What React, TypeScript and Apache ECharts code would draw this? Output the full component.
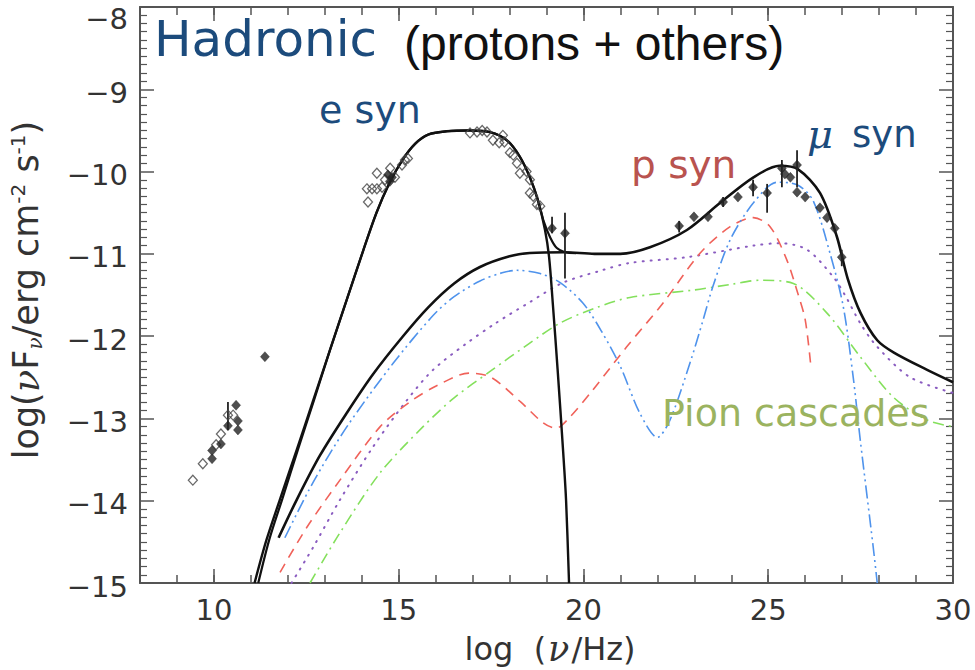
import { useEffect, useRef } from 'react';
import * as echarts from 'echarts';

// ---- axis ticks ----
const xMajorTicks = [10, 15, 20, 25, 30];
const yRange = [-15, -8];
const xRange = [8, 30];

// ---- model curves: [log nu, log nuFnu] ----
const eSynCurve = [
  [11.1, -15], [11.42, -14.48], [11.79, -13.98], [12.25, -13.37], [12.68, -12.79],
  [13.14, -12.17], [13.6, -11.55], [14.04, -10.96], [14.4, -10.5], [14.75, -10.14],
  [15.1, -9.86], [15.45, -9.66], [15.8, -9.55], [16.3, -9.51], [16.93, -9.5],
  [17.47, -9.52], [17.93, -9.62], [18.28, -9.82], [18.55, -10.07], [18.77, -10.35],
  [18.96, -10.71], [19.07, -11.04], [19.17, -11.6], [19.3, -12.4], [19.45, -13.4],
  [19.53, -14.0], [19.61, -15],
];

const totalCurve = [
  [11.2, -15], [11.5, -14.47], [11.85, -13.98], [12.28, -13.37], [12.7, -12.79],
  [13.14, -12.17], [13.6, -11.55], [14.04, -10.96], [14.4, -10.5], [14.75, -10.14],
  [15.1, -9.86], [15.45, -9.66], [15.8, -9.55], [16.3, -9.51], [16.93, -9.5],
  [17.47, -9.52], [17.93, -9.62], [18.28, -9.82], [18.55, -10.07], [18.77, -10.35],
  [18.92, -10.6], [19.1, -10.8], [19.28, -10.93], [19.5, -10.98], [19.8, -10.99],
];

const hadronicCurve = [
  [11.75, -14.45], [12.25, -13.98], [12.87, -13.45], [13.6, -12.93], [14.31, -12.46],
  [15.1, -12.01], [15.8, -11.65], [16.5, -11.36], [17.2, -11.16], [18.0, -11.03],
  [18.55, -10.99], [19.5, -10.98], [20.3, -11.0], [21.0, -11.0], [21.8, -10.92],
  [22.8, -10.71], [23.7, -10.38], [24.6, -10.07], [25.3, -9.93], [25.8, -9.97],
  [26.4, -10.26], [26.85, -10.78], [27.15, -11.3], [27.5, -11.72], [27.95, -12.05],
  [28.4, -12.2], [29.3, -12.41], [30, -12.56],
];

const muSynCurve = [
  [11.92, -14.45], [12.68, -13.78], [13.6, -13.1], [14.85, -12.33], [15.93, -11.75],
  [16.5, -11.52], [17.2, -11.33], [17.8, -11.23], [18.2, -11.2], [18.83, -11.24],
  [19.37, -11.35], [19.99, -11.6], [20.5, -11.95], [21.0, -12.37], [21.53, -12.94],
  [22.0, -13.23], [22.34, -13.02], [22.88, -12.33], [23.24, -11.8], [23.5, -11.4],
  [23.97, -10.83], [24.6, -10.38], [25.24, -10.13], [25.78, -10.16], [26.21, -10.35],
  [26.67, -10.99], [27.03, -11.64], [27.3, -12.5], [27.49, -13.26], [27.84, -14.56],
  [27.95, -15],
];

const pSynCurve = [
  [11.79, -14.87], [12.52, -14.32], [13.41, -13.75], [14.5, -13.1], [15.3, -12.8],
  [16.04, -12.6], [16.9, -12.45], [17.5, -12.5], [18.3, -12.8], [18.9, -13.05],
  [19.25, -13.12], [19.64, -12.98], [20.26, -12.65], [21.17, -12.13], [22.15, -11.6],
  [23.16, -10.99], [23.97, -10.67], [24.6, -10.56], [25.05, -10.67], [25.5, -11.07],
  [25.8, -11.48], [26.0, -11.8], [26.15, -12.35],
];

const cascadeCurve = [
  [12.1, -15], [12.68, -14.57], [13.41, -13.99], [14.3, -13.35], [15.22, -12.78],
  [15.93, -12.41], [16.8, -12.1], [17.6, -11.85], [18.5, -11.6], [19.45, -11.35],
  [20.5, -11.2], [21.26, -11.11], [22.8, -11.04], [24.6, -10.9], [25.32, -10.87],
  [26.05, -10.95], [26.76, -11.28], [27.1, -11.52], [27.5, -11.85], [27.95, -12.13],
  [28.84, -12.5], [30, -12.69],
];

const pionCurve = [
  [12.6, -15], [13.41, -14.39], [14.5, -13.66], [15.66, -13.1], [16.5, -12.75],
  [17.5, -12.42], [18.5, -12.1], [19.37, -11.84], [20.37, -11.65], [21.26, -11.53],
  [22.97, -11.44], [24.0, -11.37], [24.78, -11.32], [25.68, -11.36], [26.59, -11.72],
  [27.49, -12.25], [28.38, -12.74], [29.3, -13.02], [30, -13.1],
];

// ---- observations ----
const openPoints = [
  [9.43, -13.75], [9.7, -13.55], [10.06, -13.32], [10.19, -13.19], [10.38, -12.96],
  [10.52, -12.96],
  [14.17, -10.37], [14.14, -10.21], [14.28, -10.21], [14.41, -10.21], [14.55, -10.19],
  [14.41, -10.02], [14.63, -10.1], [14.77, -9.96], [14.9, -10.07], [15.09, -9.92],
  [15.17, -9.86], [15.25, -9.84],
  [16.93, -9.53], [17.12, -9.52], [17.26, -9.5], [17.39, -9.52], [17.55, -9.62],
  [17.82, -9.56], [17.72, -9.65], [17.86, -9.64], [18.01, -9.77], [18.1, -9.8],
  [18.2, -9.9], [18.28, -10.02], [18.46, -10.0], [18.55, -10.1], [18.55, -10.26],
  [18.64, -10.3], [18.74, -10.4], [18.83, -10.42],
];

const filledPoints = [
  [9.95, -13.49], [9.95, -13.39], [10.19, -13.31], [10.38, -13.09], [10.6, -12.84],
  [10.65, -13.03], [10.65, -13.14], [11.38, -12.25],
  [14.71, -10.04], [14.82, -10.07], [14.76, -10.12],
  [19.15, -10.69], [19.5, -10.75],
  [22.59, -10.66], [22.99, -10.55], [23.37, -10.55], [23.78, -10.37], [24.18, -10.31],
  [24.59, -10.19], [24.97, -10.26], [25.37, -9.96], [25.45, -10.03], [25.6, -10.07],
  [25.78, -9.92], [25.78, -10.25], [26.0, -10.31], [26.4, -10.44], [26.59, -10.56],
  [26.8, -10.69], [26.99, -11.04],
];

// [x, low, high]
const errorBars = [
  [10.38, -13.14, -12.8],
  [19.15, -10.75, -10.55],
  [19.5, -11.3, -10.5],
  [22.59, -10.74, -10.6],
  [23.78, -10.43, -10.31],
  [24.59, -10.3, -10.1],
  [24.97, -10.5, -10.15],
  [25.37, -10.19, -9.86],
  [25.78, -10.19, -9.74],
  [26.99, -11.15, -10.95],
];

const axisColor = '#555';
const labelFont = { fontFamily: 'DejaVu Sans', fontSize: 29, color: '#333' };
const minus = (v: number) => (v < 0 ? '\u2212' + Math.abs(v) : String(v));

function curve(name: string, data: number[][], color: string, width: number, type: any, cap: any = 'butt') {
  return {
    name,
    type: 'line',
    data,
    showSymbol: false,
    symbol: 'none',
    smooth: 0.3,
    clip: true,
    lineStyle: { color, width, type, cap },
    z: 3,
  };
}

const xBase = {
  type: 'value',
  min: xRange[0],
  max: xRange[1],
  splitLine: { show: false },
};

const yBase = {
  type: 'value',
  min: yRange[0],
  max: yRange[1],
  interval: 1,
  axisLine: { show: true, onZero: false, lineStyle: { color: axisColor, width: 2 } },
  axisTick: { show: true, inside: true, length: 14, lineStyle: { color: axisColor, width: 1.5 } },
  minorTick: { show: true, splitNumber: 10, length: 7, lineStyle: { color: axisColor, width: 1.2 } },
  splitLine: { show: false },
  minorSplitLine: { show: false },
};

const option: any = {
  animation: false,
  backgroundColor: '#fff',
  grid: { left: 140, right: 22, top: 7, bottom: 87, containLabel: false, outerBoundsMode: 'none' },
  xAxis: [
    {
      ...xBase,
      position: 'bottom',
      interval: 1,
      axisLine: { show: true, onZero: false, lineStyle: { color: axisColor, width: 2 } },
      axisTick: { show: true, inside: true, length: 8, lineStyle: { color: axisColor, width: 1.5 } },
      axisLabel: { show: true, margin: 12, ...labelFont, formatter: (v: number) => (v % 5 === 0 ? String(v) : '') },
    },
    {
      ...xBase,
      position: 'bottom',
      axisLine: { show: false, onZero: false },
      axisTick: { show: true, inside: true, length: 14, customValues: xMajorTicks, lineStyle: { color: axisColor, width: 1.5 } },
      axisLabel: { show: false },
    },
    {
      ...xBase,
      position: 'top',
      interval: 1,
      axisLine: { show: true, onZero: false, lineStyle: { color: axisColor, width: 2 } },
      axisTick: { show: true, inside: true, length: 8, lineStyle: { color: axisColor, width: 1.5 } },
      axisLabel: { show: false },
    },
    {
      ...xBase,
      position: 'top',
      axisLine: { show: false, onZero: false },
      axisTick: { show: true, inside: true, length: 14, customValues: xMajorTicks, lineStyle: { color: axisColor, width: 1.5 } },
      axisLabel: { show: false },
    },
  ],
  yAxis: [
    {
      ...yBase,
      position: 'left',
      axisLabel: {
        show: true,
        margin: 12,
        ...labelFont,
        // labels sit a little below their ticks; the topmost one clears the frame
        formatter: (v: number) => (v === yRange[1] ? `{top|${minus(v)}}` : `{n|${minus(v)}}`),
        rich: {
          n: { ...labelFont, padding: [7, 0, 0, 0] },
          top: { ...labelFont, padding: [24, 0, 0, 0] },
        },
      },
    },
    {
      ...yBase,
      position: 'right',
      axisLabel: { show: false },
    },
  ],
  series: [
    curve('pion cascades', pionCurve, '#84e05c', 1.6, [11, 5, 2, 5]),
    curve('cascade', cascadeCurve, '#8a5cc0', 2, [1, 7], 'round'),
    curve('p syn', pSynCurve, '#f0625a', 1.6, [10, 7]),
    curve('mu syn', muSynCurve, '#4f93ec', 1.6, [13, 4, 2, 4, 2, 4]),
    curve('total', totalCurve, '#111', 2.2, 'solid'),
    curve('e syn', eSynCurve, '#111', 2.4, 'solid'),
    curve('hadronic', hadronicCurve, '#111', 2.6, 'solid'),
    {
      name: 'error bars',
      type: 'custom',
      data: errorBars,
      encode: { x: 0, y: [1, 2] },
      z: 4,
      renderItem: (_params: any, api: any) => {
        const p1 = api.coord([api.value(0), api.value(1)]);
        const p2 = api.coord([api.value(0), api.value(2)]);
        return {
          type: 'line',
          shape: { x1: p1[0], y1: p1[1], x2: p2[0], y2: p2[1] },
          style: { stroke: '#222', lineWidth: 1.8 },
        };
      },
    },
    {
      name: 'open',
      type: 'scatter',
      data: openPoints,
      symbol: 'diamond',
      symbolSize: [9, 10],
      itemStyle: { color: 'rgba(255,255,255,0)', borderColor: '#444', borderWidth: 1.3 },
      z: 5,
    },
    {
      name: 'filled',
      type: 'scatter',
      data: filledPoints,
      symbol: 'diamond',
      symbolSize: [9, 10],
      itemStyle: { color: '#222', borderColor: '#222', borderWidth: 0.5 },
      z: 5,
    },
  ],
  graphic: [
    {
      type: 'text', x: 154, y: 39, z: 10,
      style: { text: 'Hadronic', fill: '#1c4b7c', font: '50px "DejaVu Sans"', textAlign: 'left', align: 'left', textVerticalAlign: 'middle', verticalAlign: 'middle' },
    },
    {
      type: 'text', x: 404, y: 43, z: 10,
      style: { text: '(protons + others)', fill: '#111', font: '48px "Liberation Sans"', textAlign: 'left', align: 'left', textVerticalAlign: 'middle', verticalAlign: 'middle' },
    },
    {
      type: 'text', x: 319, y: 110, z: 10,
      style: { text: 'e syn', fill: '#1c4b7c', font: '38px "DejaVu Sans"', textAlign: 'left', align: 'left', textVerticalAlign: 'middle', verticalAlign: 'middle' },
    },
    {
      type: 'text', x: 631, y: 164, z: 10,
      style: { text: 'p syn', fill: '#b9534f', font: '39px "DejaVu Sans"', textAlign: 'left', align: 'left', textVerticalAlign: 'middle', verticalAlign: 'middle' },
    },
    {
      type: 'text', x: 807, y: 134, z: 10,
      style: {
        text: '{mu|\u03bc}{t|syn}',
        textAlign: 'left', align: 'left', textVerticalAlign: 'middle', verticalAlign: 'middle',
        rich: {
          mu: { fill: '#1c4b7c', fontFamily: 'DejaVu Serif', fontStyle: 'italic', fontSize: 40 },
          t: { fill: '#1c4b7c', fontFamily: 'DejaVu Sans', fontSize: 37, padding: [0, 0, 0, 19] },
        },
        fill: '#1c4b7c', font: '37px "DejaVu Sans"',
      },
    },
    {
      type: 'text', x: 662, y: 413, z: 10,
      style: { text: 'Pion cascades', fill: '#9bb35f', font: '38px "DejaVu Sans"', textAlign: 'left', align: 'left', textVerticalAlign: 'middle', verticalAlign: 'middle' },
    },
    {
      type: 'text', x: 550, y: 649, z: 10,
      style: {
        text: '{m|log  (}{nu|\u03bd}{m|/Hz)}',
        textAlign: 'center', align: 'center', textVerticalAlign: 'middle', verticalAlign: 'middle',
        fill: '#333', font: '32px "DejaVu Sans"',
        rich: {
          m: { fill: '#333', fontFamily: 'DejaVu Sans', fontSize: 32 },
          nu: { fill: '#333', fontFamily: 'DejaVu Serif', fontStyle: 'italic', fontSize: 35, padding: [0, 2, 0, 2] },
        },
      },
    },
    {
      type: 'text', x: 26, y: 290, rotation: Math.PI / 2, z: 10,
      style: {
        text: '{m|log(}{nu|\u03bd}{m|F}{sub|\u03bd}{m|/erg cm}{sup|-2}{m| s}{sup|-1}{m|)}',
        textAlign: 'center', align: 'center', textVerticalAlign: 'middle', verticalAlign: 'middle',
        fill: '#333', font: '35px "DejaVu Sans"',
        rich: {
          m: { fill: '#333', fontFamily: 'DejaVu Sans', fontSize: 35 },
          nu: { fill: '#333', fontFamily: 'DejaVu Serif', fontStyle: 'italic', fontSize: 37 },
          sub: { fill: '#333', fontFamily: 'DejaVu Serif', fontStyle: 'italic', fontSize: 20, verticalAlign: 'bottom' },
          sup: { fill: '#333', fontFamily: 'DejaVu Sans', fontSize: 20, verticalAlign: 'top' },
        },
      },
    },
  ],
};

export default function App() {
  const ref = useRef<HTMLDivElement>(null);
  useEffect(() => {
    if (!ref.current) return;
    const chart = echarts.init(ref.current, null, { renderer: 'svg' });
    chart.setOption(option);
    return () => chart.dispose();
  }, []);
  return (
    <div
      ref={ref}
      style={{ position: 'fixed', left: 0, top: 0, width: 975, height: 670, background: '#fff' }}
    />
  );
}
